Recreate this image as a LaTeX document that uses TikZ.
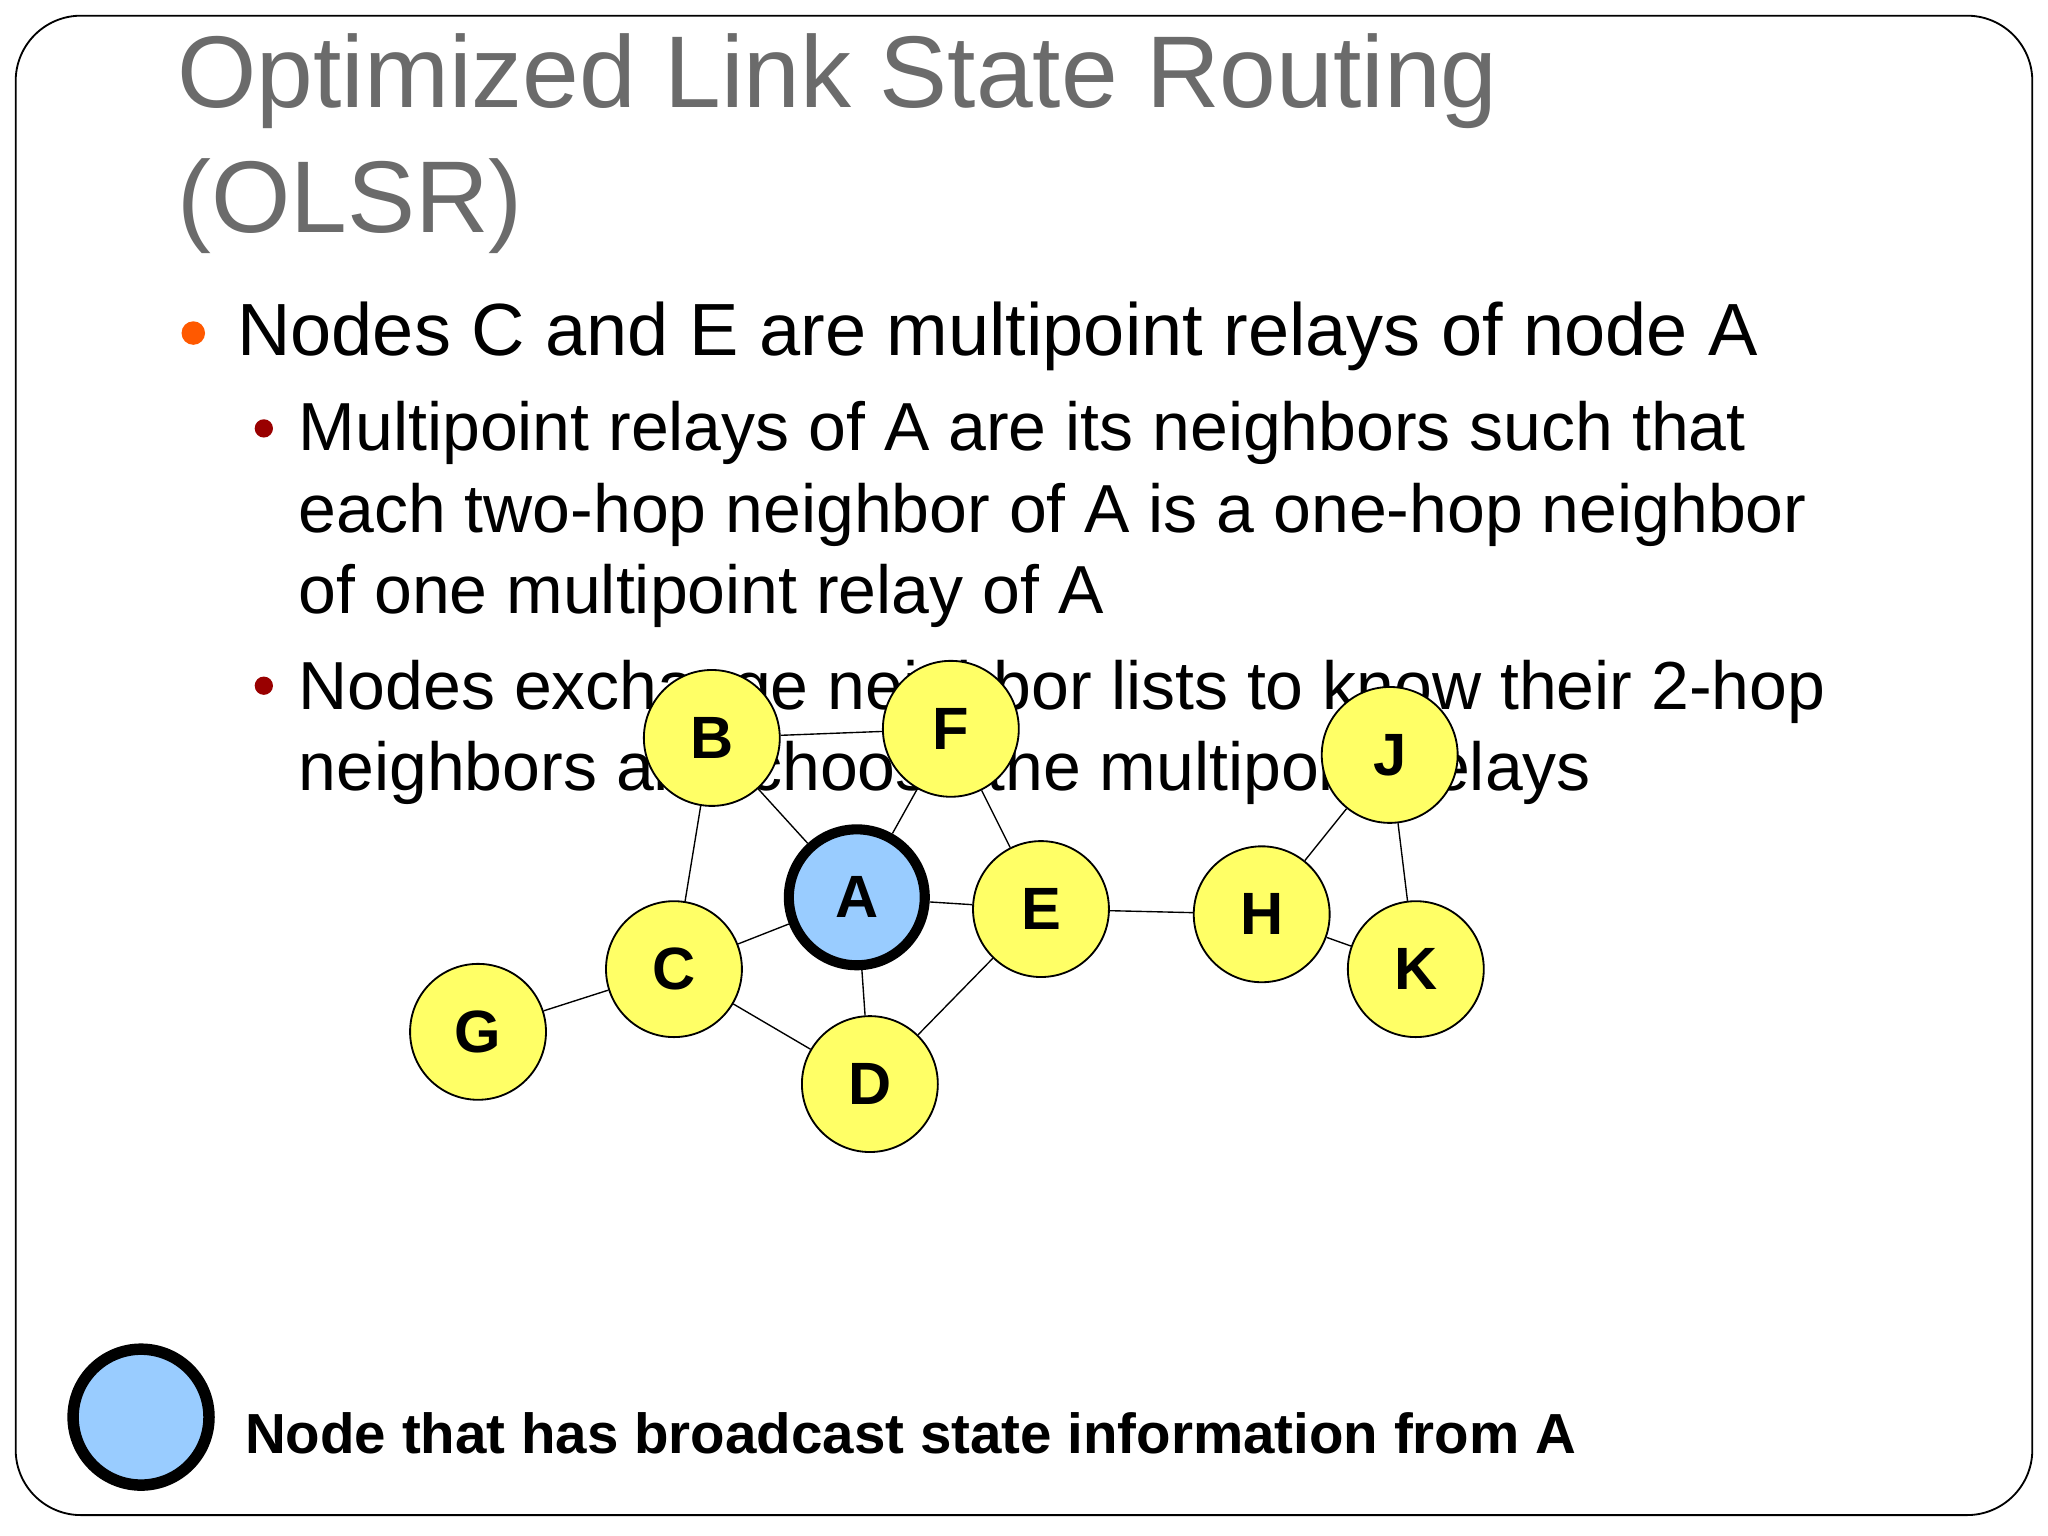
\documentclass[tikz,border=0pt]{standalone}
\usepackage{fontspec}
\setmainfont{Liberation Sans}
\usetikzlibrary{backgrounds}
\definecolor{ny}{HTML}{FFFF66}
\definecolor{nb}{HTML}{99CCFF}
\begin{document}
\begin{tikzpicture}[x=0.01cm,y=-0.01cm,
  nd/.style={circle,draw=black,fill=ny,minimum size=1.04cm,inner sep=0pt,font=\fontsize{13}{15}\selectfont\bfseries},
  ed/.style={draw=black,line width=0.3pt},
  tx/.style={anchor=base west,inner sep=0pt}]
\useasboundingbox (0,0) rectangle (1568,1176);
\node[tx,text=black!58,font=\fontsize{22.2}{26}\selectfont] (t1) at (135,82) {Optimized Link State Routing};
\node[tx,text=black!58,font=\fontsize{22.2}{26}\selectfont] (t2) at (135,178) {(OLSR)};
\fill[orange!70!red] (148,255) circle (9) coordinate (b1);
\node[tx,font=\fontsize{16.1}{20}\selectfont] (l1) at (181,272) {Nodes C and E are multipoint relays of node A};
\fill[red!60!black] (202,328) circle (7) coordinate (b2);
\node[tx,font=\fontsize{14.8}{18}\selectfont] (l2) at (228,345) {Multipoint relays of A are its neighbors such that};
\node[tx,font=\fontsize{14.8}{18}\selectfont] (l3) at (228,408) {each two-hop neighbor of A is a one-hop neighbor};
\node[tx,font=\fontsize{14.8}{18}\selectfont] (l4) at (228,470) {of one multipoint relay of A};
\fill[red!60!black] (202,525) circle (7) coordinate (b3);
\node[tx,font=\fontsize{14.8}{18}\selectfont] (l5) at (228,543) {Nodes exchange neighbor lists to know their 2-hop};
\node[tx,font=\fontsize{14.8}{18}\selectfont] (l6) at (228,605) {neighbors and choose the multipoint relays};
\node[nd] (B) at (545,565) {B};
\node[nd] (F) at (728,558) {F};
\node[nd,fill=nb,line width=2.2pt] (A) at (656,687) {A};
\node[nd] (E) at (797,696) {E};
\node[nd] (H) at (966,700) {H};
\node[nd] (J) at (1064,578) {J};
\node[nd] (K) at (1084,742) {K};
\node[nd] (C) at (516,742) {C};
\node[nd] (G) at (366,790) {G};
\node[nd] (D) at (666,830) {D};
\node[nd,fill=nb,line width=2.5pt] (L) at (108,1085) {};
\node[tx,font=\fontsize{12.3}{15}\selectfont\bfseries] (lt) at (187,1113) {Node that has broadcast state information from A};
\begin{scope}[on background layer]
\fill[white] (0,0) rectangle (1568,1176);
\draw[line width=0.4pt,rounded corners=0.5cm] (12,12) rectangle (1556,1160);
\foreach \a/\b in {B/F,B/A,B/C,F/A,F/E,A/E,A/C,A/D,C/G,C/D,D/E,E/H,H/J,H/K,J/K}
  \draw[ed] (\a) -- (\b);
\end{scope}
\end{tikzpicture}
\end{document}
